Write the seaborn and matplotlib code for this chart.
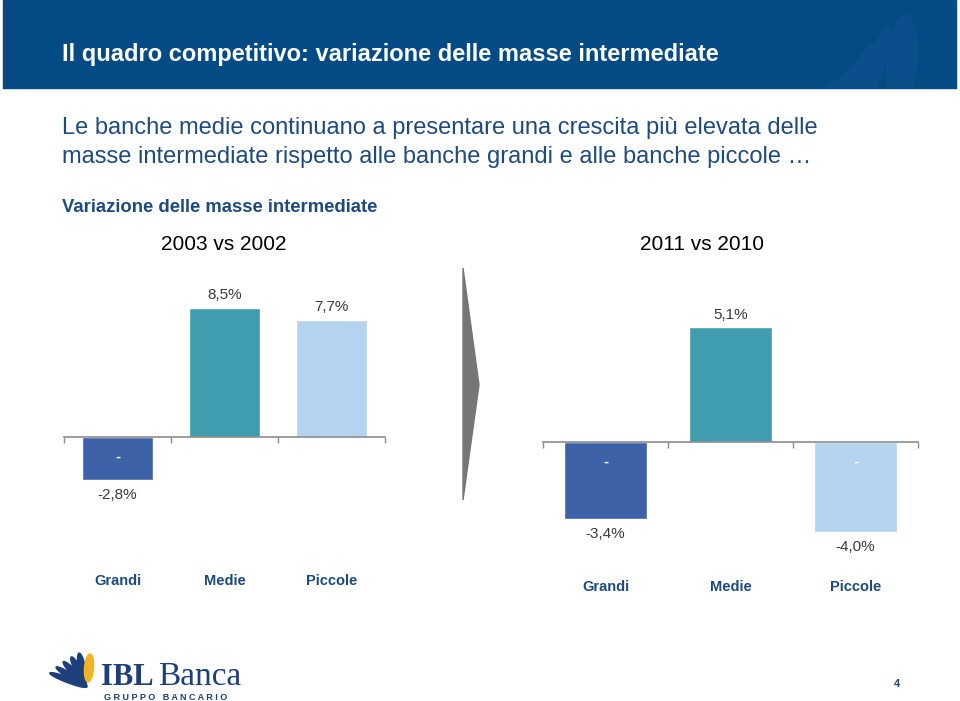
import numpy as np
import pandas as pd
import seaborn as sns
import matplotlib.pyplot as plt
from matplotlib.patches import Rectangle, Polygon, Ellipse
from matplotlib.transforms import blended_transform_factory

# --- DATI ---
categorie = ['Grandi', 'Medie', 'Piccole']
var_2003 = [-2.8, 8.5, 7.7]          # variazione 2003 vs 2002 (%)
var_2011 = [-3.4, 5.1, -4.0]         # variazione 2011 vs 2010 (%)
etichette_2003 = ['-2,8%', '8,5%', '7,7%']
etichette_2011 = ['-3,4%', '5,1%', '-4,0%']
colori = ['#3e62a8', '#409daf', '#b3d3ee']

W, H = 960, 701
BLU = '#044a85'
BLU_TESTO = '#1f4a7e'

sns.set_theme(style='white')
plt.rcParams['font.family'] = ['Liberation Sans', 'DejaVu Sans']

fig = plt.figure(figsize=(9.6, 7.01), dpi=100)


def px(x0, y0, x1, y1):
    # rettangolo in pixel (origine in alto a sinistra) -> coordinate figura
    return [x0 / W, 1 - y1 / H, (x1 - x0) / W, (y1 - y0) / H]


def fx(x):
    return x / W


def fy(y):
    return 1 - y / H


# --- INTESTAZIONE ---
testata = Rectangle((fx(3), fy(88)), fx(953), 88 / H, transform=fig.transFigure,
                    color=BLU, zorder=0)
fig.patches.append(testata)
# foglie decorative nella testata (appena visibili)
for cx, cy, w, h, ang in [(902, 62, 30, 95, -3), (872, 75, 18, 100, -14),
                          (851, 85, 16, 90, -22), (833, 95, 14, 80, -32),
                          (815, 100, 12, 60, -45)]:
    e = Ellipse((fx(cx), fy(cy)), w / W, h / H, angle=ang, transform=fig.transFigure,
                color='#0a4f8c', zorder=0.5)
    e.set_clip_path(testata)
    fig.patches.append(e)

fig.text(fx(62), fy(55), 'Il quadro competitivo: variazione delle masse intermediate',
         color='white', weight='bold', size=17, va='center')

fig.text(fx(62), fy(128), 'Le banche medie continuano a presentare una crescita più elevata delle',
         color=BLU_TESTO, size=17, va='center')
fig.text(fx(62), fy(157), 'masse intermediate rispetto alle banche grandi e alle banche piccole …',
         color=BLU_TESTO, size=17, va='center')
fig.text(fx(62), fy(208), 'Variazione delle masse intermediate',
         color=BLU_TESTO, size=13.3, weight='bold', va='center')

fig.text(fx(224), fy(244), '2003 vs 2002', color='black', size=15, ha='center', va='center')
fig.text(fx(702), fy(244), '2011 vs 2010', color='black', size=15, ha='center', va='center')


# --- GRAFICI A BARRE ---
def grafico(rect, valori, etichette, ylim, y_cat):
    ax = fig.add_axes(px(*rect))
    df = pd.DataFrame({'cat': categorie, 'val': valori})
    sns.barplot(data=df, x='cat', y='val', hue='cat', palette=colori, width=0.67,
                saturation=1, legend=False, ax=ax)
    ax.set_xlim(-0.5, 2.5)
    ax.set_ylim(*ylim)
    for s in ['top', 'right', 'left']:
        ax.spines[s].set_visible(False)
    ax.spines['bottom'].set_position(('data', 0))
    ax.spines['bottom'].set_color('#8c8c8c')
    ax.spines['bottom'].set_linewidth(1.2)
    ax.set_xticks([-0.5, 0.5, 1.5, 2.5])
    ax.set_xticklabels([])
    ax.tick_params(axis='x', bottom=True, length=4, width=1, color='#8c8c8c', direction='out')
    ax.set_yticks([])
    ax.set_xlabel('')
    ax.set_ylabel('')
    ax.patch.set_alpha(0)

    for i, (v, t) in enumerate(zip(valori, etichette)):
        if v > 0:
            ax.annotate(t, (i, v), xytext=(0, 4), textcoords='offset points',
                        ha='center', va='bottom', size=11, color='#3a3a3a')
        else:
            ax.annotate(t, (i, v), xytext=(0, -6), textcoords='offset points',
                        ha='center', va='top', size=11, color='#3a3a3a')
            ax.annotate('-', (i, 0), xytext=(0, -14), textcoords='offset points',
                        ha='center', va='center', size=11, color='white', weight='bold')

    tr = blended_transform_factory(ax.transData, fig.transFigure)
    for i, c in enumerate(categorie):
        ax.text(i, fy(y_cat), c, transform=tr, ha='center', va='center',
                size=10.5, weight='bold', color=BLU_TESTO)
    return ax


# asse sinistro: zero a y=437, 15.2 px per punto
grafico((64, 285, 385, 498), var_2003, etichette_2003, (-4, 10), 581)
# asse destro: zero a y=442, 22.5 px per punto
grafico((543, 307, 918, 554.5), var_2011, etichette_2011, (-5, 6), 587)

# freccia grigia tra i due grafici
freccia = Polygon([(fx(463), fy(268)), (fx(479), fy(385)), (fx(463), fy(500))],
                  closed=True, transform=fig.transFigure, color='#767676')
fig.patches.append(freccia)

# --- LOGO ---
for k, ang in enumerate([62, 48, 34, 20, 8]):
    e = Ellipse((fx(68 + k * 3.5), fy(680 - k * 3)), 7 / W, 30 / H, angle=ang,
                transform=fig.transFigure, color='#1d3f7a')
    fig.patches.append(e)
fig.patches.append(Ellipse((fx(89), fy(668)), 9 / W, 28 / H, angle=-3,
                           transform=fig.transFigure, color='#f0b323'))
fig.text(fx(101), fy(685), 'IBL', family=['Liberation Serif', 'DejaVu Serif'],
         size=22, weight='bold', color='#1d3f7a', va='baseline')
fig.text(fx(158), fy(685), 'Banca', family=['Liberation Serif', 'DejaVu Serif'],
         size=24, color='#1d3f7a', va='baseline')
fig.text(fx(104), fy(698), 'G R U P P O   B A N C A R I O', size=6.5, weight='bold',
         color='#1d3f7a', va='center')

fig.text(fx(897), fy(684), '4', size=8, weight='bold', color=BLU_TESTO, ha='center', va='center')

fig.savefig('out.png', dpi=100)
